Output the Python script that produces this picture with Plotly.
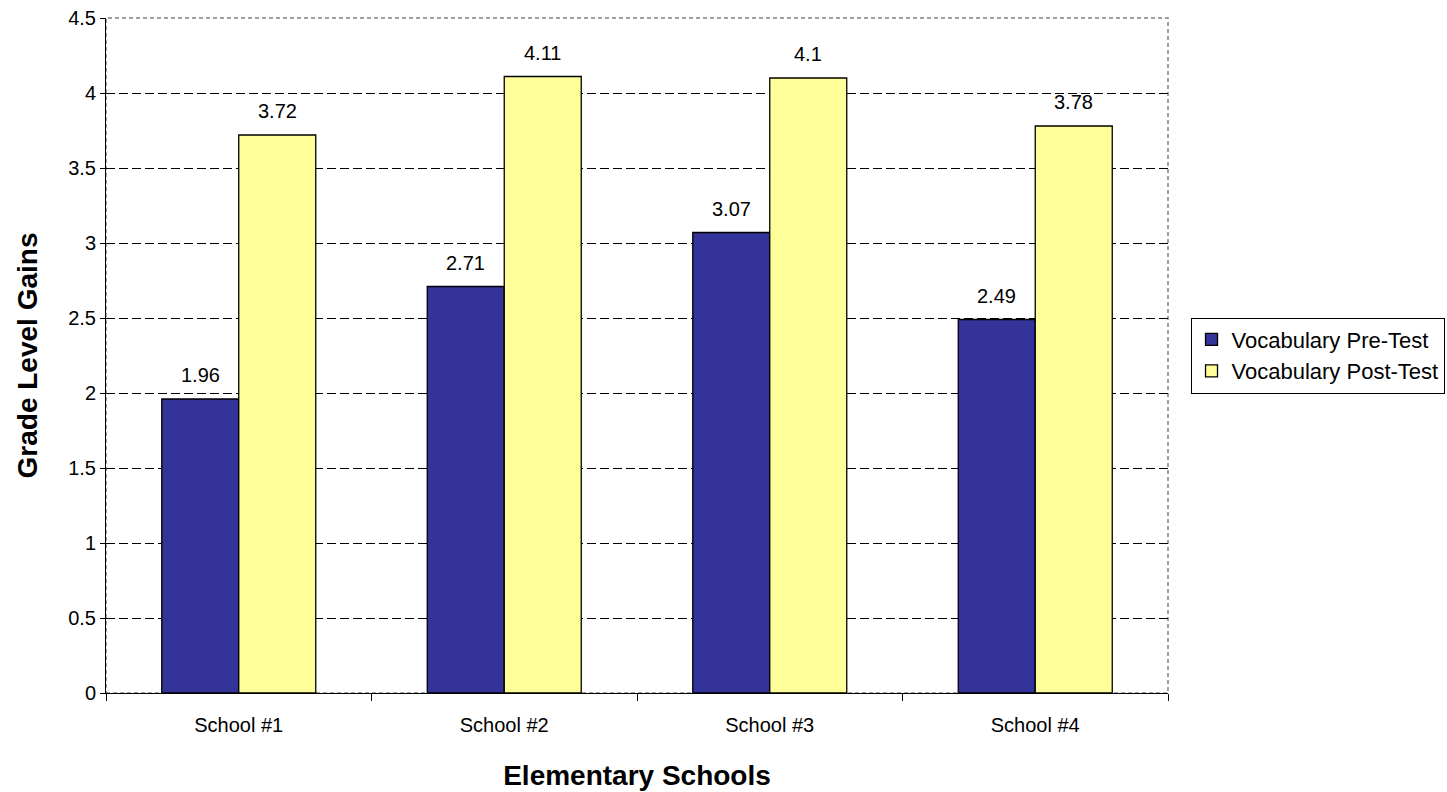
import plotly.graph_objects as go

schools = ["School #1", "School #2", "School #3", "School #4"]
pre_test = [1.96, 2.71, 3.07, 2.49]
post_test = [3.72, 4.11, 4.10, 3.78]
pre_labels = ["1.96", "2.71", "3.07", "2.49"]
post_labels = ["3.72", "4.11", "4.1", "3.78"]

FONT = "Liberation Sans, Arial, sans-serif"

fig = go.Figure()
fig.add_trace(go.Bar(x=schools, y=pre_test, name="Vocabulary Pre-Test",
                     marker=dict(color="#333399", line=dict(color="black", width=1.3))))
fig.add_trace(go.Bar(x=schools, y=post_test, name="Vocabulary Post-Test",
                     marker=dict(color="#FFFF99", line=dict(color="black", width=1.3))))

annotations = []
for i, s in enumerate(schools):
    annotations.append(dict(x=s, y=pre_test[i], text=pre_labels[i], xref="x", yref="y",
                            showarrow=False, xshift=-38.5, yshift=24,
                            font=dict(size=20, color="black", family=FONT)))
    annotations.append(dict(x=s, y=post_test[i], text=post_labels[i], xref="x", yref="y",
                            showarrow=False, xshift=38.5, yshift=24,
                            font=dict(size=20, color="black", family=FONT)))

fig.update_layout(
    width=1447, height=792,
    margin=dict(l=106, r=279, t=18, b=99, autoexpand=False),
    paper_bgcolor="white", plot_bgcolor="white",
    barmode="group", bargap=0.42, bargroupgap=0,
    font=dict(family=FONT, size=20, color="black"),
    annotations=annotations,
    xaxis=dict(
        title=dict(text="<b>Elementary Schools</b>", font=dict(size=28), standoff=30),
        tickson="boundaries", ticks="outside", ticklen=7, tickcolor="black",
        showline=True, linecolor="black", linewidth=1.3,
        tickfont=dict(size=20), automargin=False, ticklabelstandoff=14,
    ),
    yaxis=dict(
        title=dict(text="<b>Grade Level Gains</b>", font=dict(size=28), standoff=22),
        range=[0, 4.5], dtick=0.5,
        ticks="outside", ticklen=5, tickcolor="black",
        showline=True, linecolor="black", linewidth=1,
        showgrid=True, gridcolor="black", griddash="9px,4px", gridwidth=1,
        zeroline=False, tickfont=dict(size=20), automargin=False,
        ticklabeloverflow="allow",
    ),
    legend=dict(
        x=1.0212, xanchor="left", y=0.5, yanchor="middle",
        xref="paper", yref="paper",
        bordercolor="black", borderwidth=1,
        font=dict(size=22), itemwidth=30,
        tracegroupgap=4,
    ),
    shapes=[dict(type="rect", xref="paper", yref="paper", x0=0, x1=1, y0=0, y1=1,
                 line=dict(color="#808080", width=1.5, dash="4px,3px"), layer="below")],
)

fig.write_html("out.html", config={"displayModeBar": False},
               post_script="document.body.style.margin='0';")
